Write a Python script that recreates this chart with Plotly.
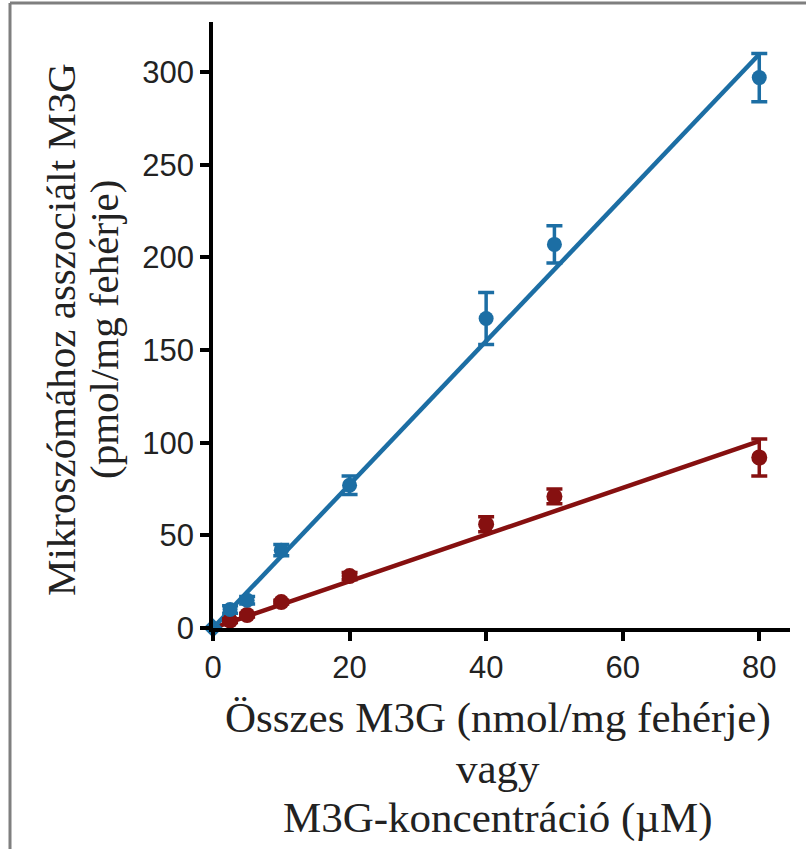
import plotly.graph_objects as go

# Data
blue_x = [0, 2.5, 5, 10, 20, 40, 50, 80]
blue_y = [0, 10, 15, 42, 77, 167, 207, 297]
blue_err = [0, 2, 2, 3, 5, 14, 10, 13]
red_x = [2.5, 5, 10, 20, 40, 50, 80]
red_y = [4, 7, 14, 28, 56, 71, 92]
red_err = [1, 1, 1, 2, 4, 4, 10]
blue_slope = 3.87
red_slope = 1.26
fit_x = [0, 80]
x_ticks = [0, 20, 40, 60, 80]
y_ticks = [0, 50, 100, 150, 200, 250, 300]

BLUE = "#1c6ea4"
RED = "#861010"

fig = go.Figure()
fig.add_trace(go.Scatter(x=fit_x, y=[red_slope * v for v in fit_x], mode="lines",
                         line=dict(color=RED, width=4.5), cliponaxis=False, showlegend=False))
fig.add_trace(go.Scatter(x=fit_x, y=[blue_slope * v for v in fit_x], mode="lines",
                         line=dict(color=BLUE, width=4.5), cliponaxis=False, showlegend=False))
fig.add_trace(go.Scatter(x=red_x, y=red_y, mode="markers",
                         marker=dict(color=RED, size=16),
                         error_y=dict(type="data", array=red_err, color=RED, thickness=3.5, width=8),
                         cliponaxis=False, showlegend=False))
fig.add_trace(go.Scatter(x=blue_x, y=blue_y, mode="markers",
                         marker=dict(color=BLUE, size=15,
                                     symbol=["diamond"] + ["circle"] * (len(blue_x) - 1)),
                         error_y=dict(type="data", array=blue_err, color=BLUE, thickness=3.5, width=8),
                         cliponaxis=False, showlegend=False))

axis_common = dict(showgrid=False, zeroline=False, showline=True, linecolor="black", linewidth=3.5,
                   ticks="outside", ticklen=9, tickwidth=3.5, tickcolor="black",
                   tickfont=dict(family="Liberation Sans, Arial", size=31, color="#222"))
fig.update_xaxes(range=[0, 84.5], tickvals=x_ticks, **axis_common)
fig.update_yaxes(range=[0, 327], tickvals=y_ticks, **axis_common)

serif_x = dict(family="Liberation Serif, Times New Roman", size=43, color="#222")
serif_y = dict(family="Liberation Serif, Times New Roman", size=41, color="#222")
x_title_lines = ["Összes M3G (nmol/mg fehérje)", "vagy", "M3G-koncentráció (µM)"]
x_title_px = [718, 768, 818]
for txt, py in zip(x_title_lines, x_title_px):
    fig.add_annotation(text=txt, xref="paper", yref="paper",
                       x=(498 - 213) / 577, y=(849 - py - 221) / 606,
                       xanchor="center", yanchor="middle", showarrow=False, font=serif_x)
y_title_lines = ["Mikroszómához asszociált M3G", "(pmol/mg fehérje)"]
y_title_px = [61, 104]
for txt, px in zip(y_title_lines, y_title_px):
    fig.add_annotation(text=txt, xref="paper", yref="paper",
                       x=(px - 213) / 577, y=(849 - 330 - 221) / 606, textangle=-90,
                       xanchor="center", yanchor="middle", showarrow=False, font=serif_y)

fig.add_shape(type="line", xref="paper", yref="paper",
              x0=(10 - 213) / 577, x1=(10 - 213) / 577, y0=(0 - 221) / 606, y1=(846 - 221) / 606,
              line=dict(color="#7f7f7f", width=3))
fig.add_shape(type="line", xref="paper", yref="paper",
              x0=(10 - 213) / 577, x1=(806 - 213) / 577, y0=(846 - 221) / 606, y1=(846 - 221) / 606,
              line=dict(color="#7f7f7f", width=3))

fig.update_layout(width=806, height=849, margin=dict(l=213, r=16, t=22, b=221),
                  paper_bgcolor="white", plot_bgcolor="white", showlegend=False)
fig.write_html("out.html")
